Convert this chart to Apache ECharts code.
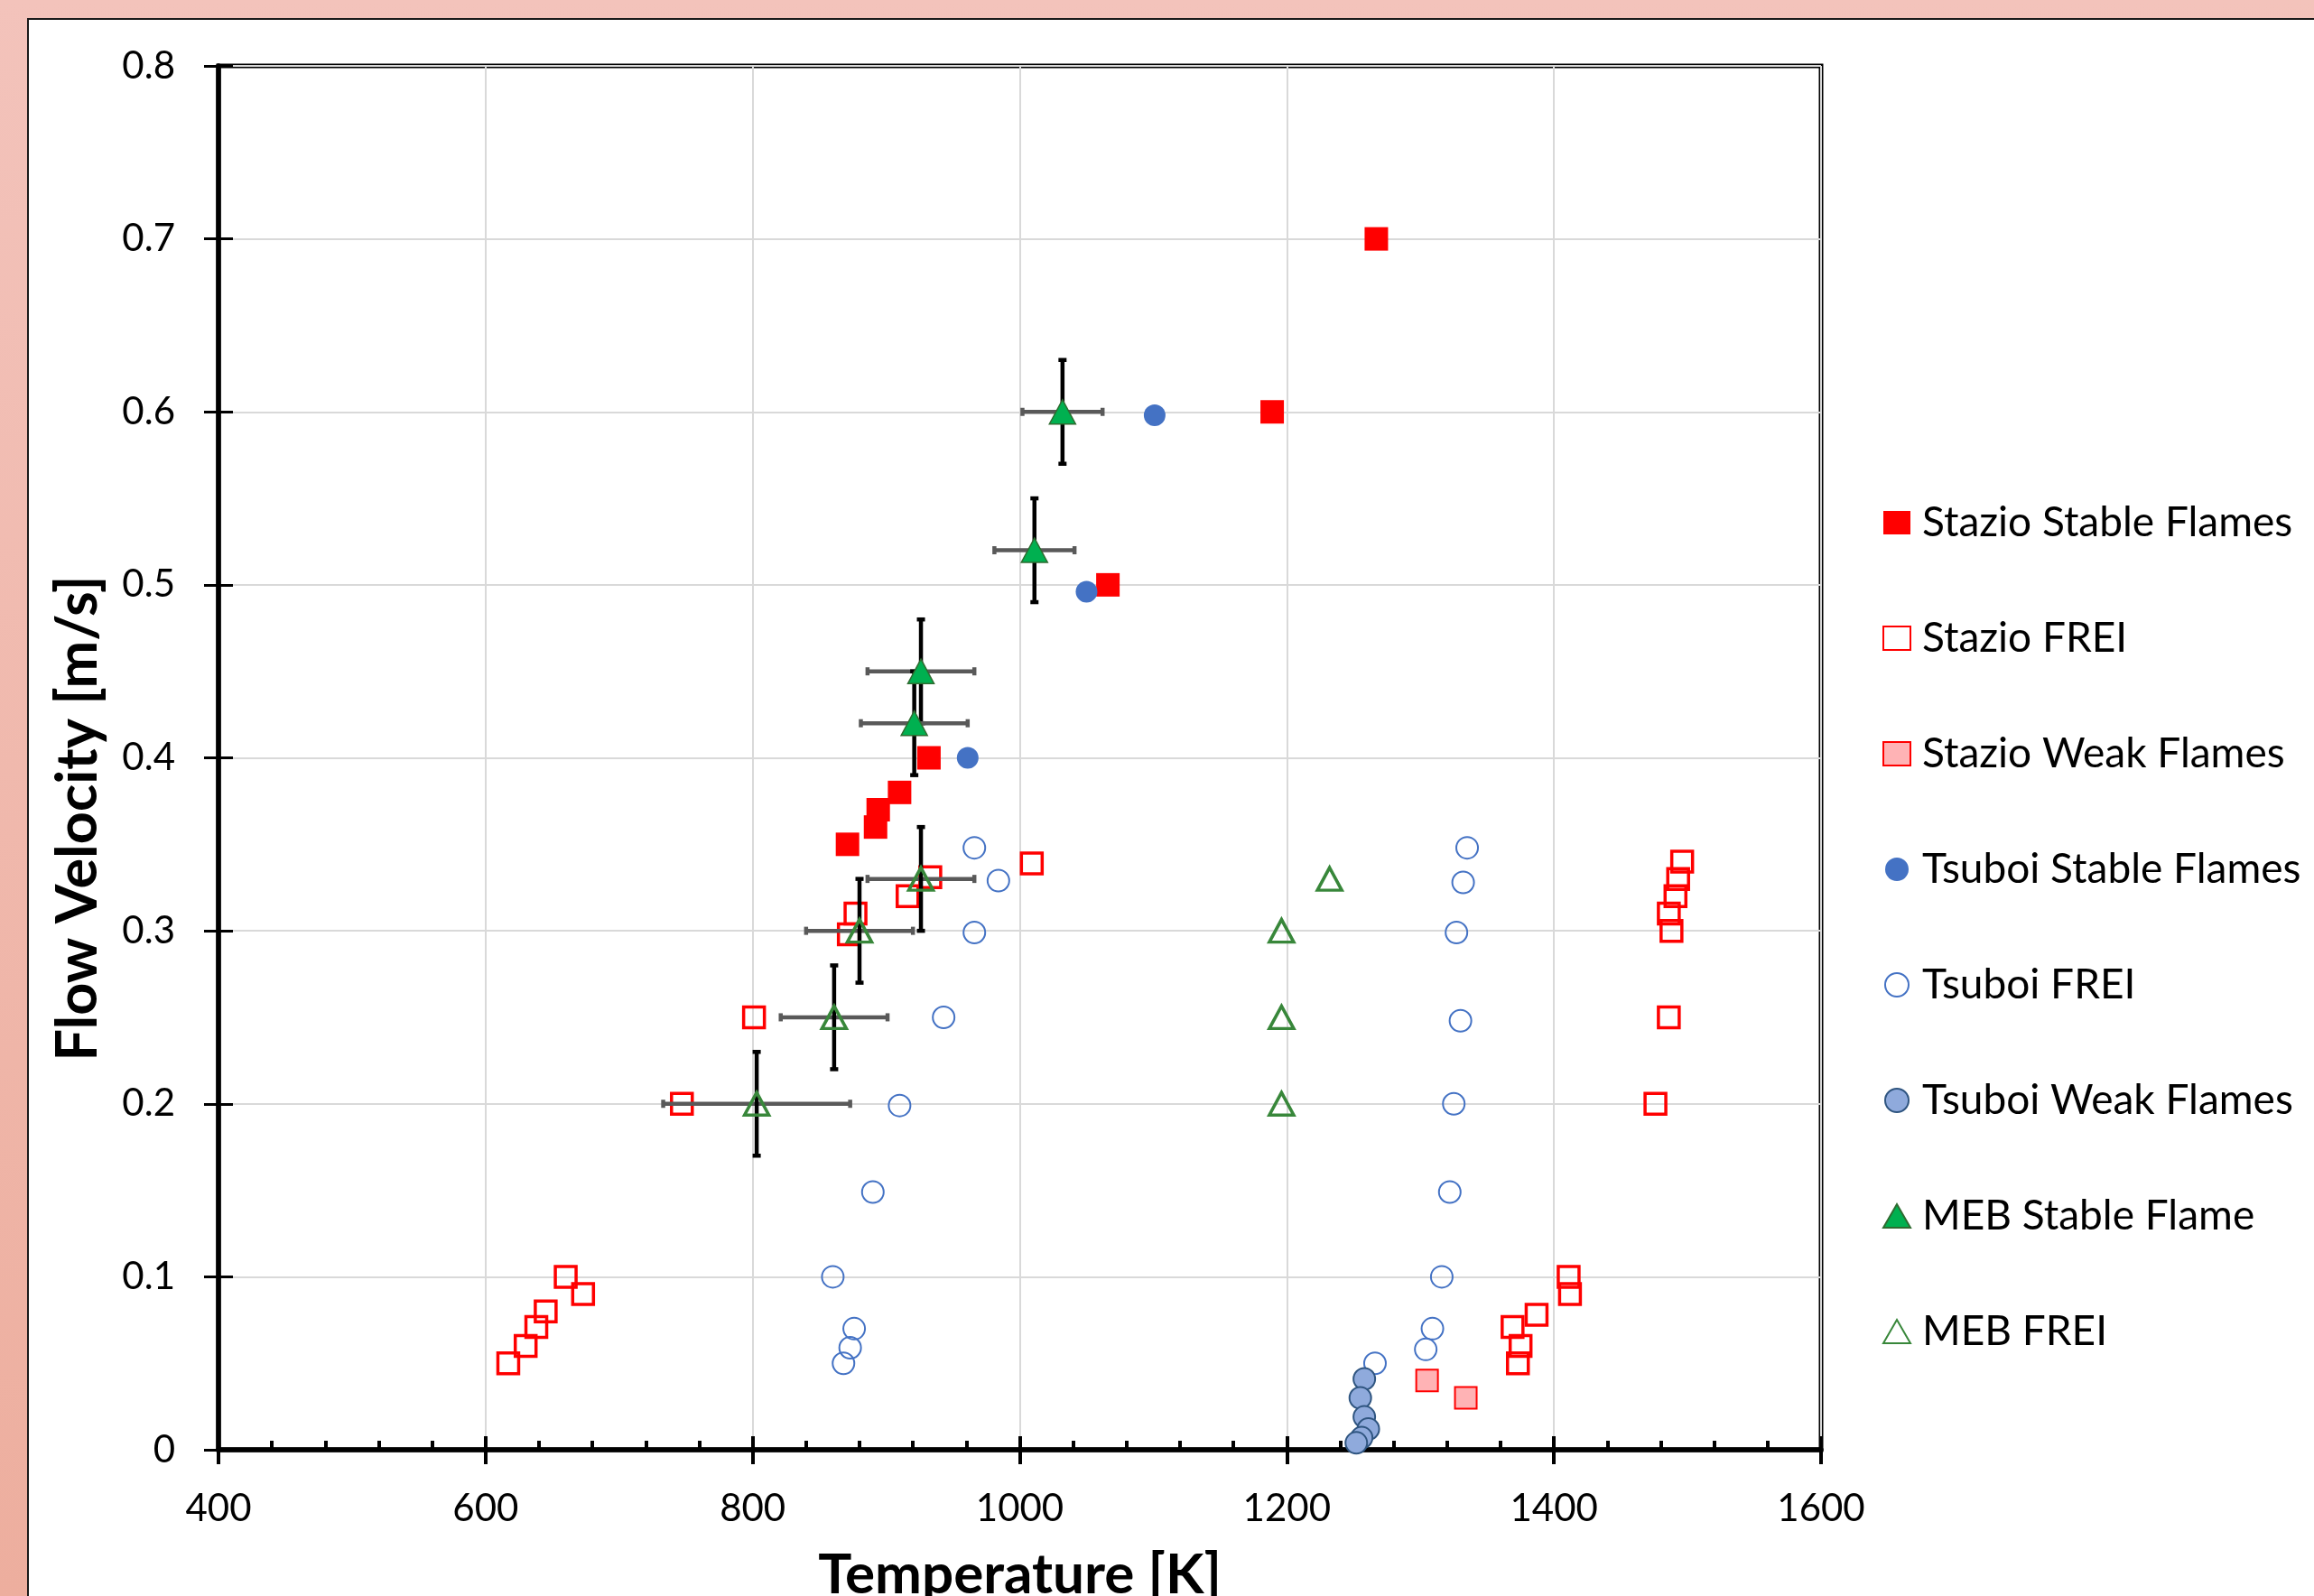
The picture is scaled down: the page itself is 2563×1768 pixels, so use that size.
<!DOCTYPE html>
<html>
<head>
<meta charset="utf-8">
<script src="https://cdn.jsdelivr.net/npm/echarts@6.0.0/dist/echarts.min.js"></script>
<style>
  html, body { margin: 0; padding: 0; }
  body {
    width: 2563px; height: 1768px; overflow: hidden; position: relative;
    background: linear-gradient(to bottom, #f3c3bb, #edae9e);
  }
  #paper {
    position: absolute; left: 30px; top: 20px; right: -10px; bottom: -10px;
    background: #fff; border-top: 2px solid #1a1a1a; border-left: 2px solid #1a1a1a;
  }
  #chart { position: absolute; left: 0; top: 0; width: 2563px; height: 1768px; }
</style>
</head>
<body>
<div id="paper"></div>
<div id="chart"></div>
<script>
// values: temperature [K] and flow velocity [m/s]
let stazioStableT = [1267, 1189, 1066, 932, 910, 894, 892, 871]
let stazioStableV = [0.70, 0.60, 0.50, 0.40, 0.38, 0.37, 0.36, 0.35]

let stazioFreiT = [617, 630, 638, 645, 660, 673, 747, 801, 872, 877, 916, 933, 1009,
  1496, 1493, 1491, 1486, 1488, 1486, 1476, 1411, 1412, 1387, 1369, 1375, 1373]
let stazioFreiV = [0.05, 0.06, 0.071, 0.08, 0.10, 0.09, 0.20, 0.25, 0.298, 0.31, 0.32, 0.331, 0.339,
  0.34, 0.33, 0.32, 0.31, 0.30, 0.25, 0.20, 0.10, 0.09, 0.078, 0.071, 0.06, 0.05]

let stazioWeakT = [1305, 1334]
let stazioWeakV = [0.04, 0.03]

let tsuboiStableT = [1101, 1050, 961]
let tsuboiStableV = [0.598, 0.496, 0.40]

let tsuboiFreiT = [966, 984, 966, 943, 910, 890, 860, 876, 873, 868,
  1335, 1332, 1327, 1330, 1325, 1322, 1316, 1309, 1304, 1266]
let tsuboiFreiV = [0.348, 0.329, 0.299, 0.25, 0.199, 0.149, 0.10, 0.07, 0.059, 0.05,
  0.348, 0.328, 0.299, 0.248, 0.20, 0.149, 0.10, 0.07, 0.058, 0.05]

let tsuboiWeakT = [1258, 1255, 1258, 1261, 1256, 1252]
let tsuboiWeakV = [0.041, 0.030, 0.019, 0.012, 0.007, 0.004]

let mebStableT = [1032, 1011, 926, 921]
let mebStableV = [0.60, 0.52, 0.45, 0.42]
let mebStableTErr = [30, 30, 40, 40]
let mebStableVErr = [0.03, 0.03, 0.03, 0.03]

let mebFreiT = [926, 880, 861, 803, 1232, 1196, 1196, 1196]
let mebFreiV = [0.33, 0.30, 0.25, 0.20, 0.33, 0.30, 0.25, 0.20]
let mebFreiTErr = [40, 40, 40, 70, 0, 0, 0, 0]
let mebFreiVErr = [0.03, 0.03, 0.03, 0.03, 0, 0, 0, 0]

let xTicks = [400, 600, 800, 1000, 1200, 1400, 1600]
let yTicks = [0, 0.1, 0.2, 0.3, 0.4, 0.5, 0.6, 0.7, 0.8]

function pairs(xs, ys) {
  return xs.map((x, i) => [x, ys[i]])
}

function errRows(xs, ys, dxs, dys) {
  let rows = []
  for (let i = 0; i < xs.length; i++) {
    if (dxs[i] || dys[i]) rows.push([xs[i], ys[i], dxs[i], dys[i]])
  }
  return rows
}

function renderErr(params, api) {
  let x = api.value(0), y = api.value(1), dx = api.value(2), dy = api.value(3)
  let l = api.coord([x - dx, y]), r = api.coord([x + dx, y])
  let t = api.coord([x, y + dy]), b = api.coord([x, y - dy])
  let gray = {stroke: '#595959', lineWidth: 4.5}
  let black = {stroke: '#000', lineWidth: 4.5}
  let c = 4.5
  return {
    type: 'group',
    children: [
      {type: 'line', shape: {x1: l[0], y1: l[1], x2: r[0], y2: r[1]}, style: gray},
      {type: 'line', shape: {x1: l[0], y1: l[1] - c, x2: l[0], y2: l[1] + c}, style: gray},
      {type: 'line', shape: {x1: r[0], y1: r[1] - c, x2: r[0], y2: r[1] + c}, style: gray},
      {type: 'line', shape: {x1: t[0], y1: t[1], x2: b[0], y2: b[1]}, style: black},
      {type: 'line', shape: {x1: t[0] - c, y1: t[1], x2: t[0] + c, y2: t[1]}, style: black},
      {type: 'line', shape: {x1: b[0] - c, y1: b[1], x2: b[0] + c, y2: b[1]}, style: black}
    ]
  }
}

let font = 'Lato'
let none = 'rgba(0,0,0,0)'

let option = {
  animation: false,
  textStyle: {fontFamily: font},
  grid: {
    left: 242, right: 546, top: 73, bottom: 162,
    outerBoundsMode: 'none',
    containLabel: false,
    show: true, borderColor: '#000', borderWidth: 5, backgroundColor: none
  },
  legend: {
    orient: 'vertical',
    left: 2080,
    top: 548,
    itemWidth: 30,
    itemHeight: 26,
    itemGap: 76,
    textStyle: {fontFamily: font, fontSize: 46, color: '#000', lineHeight: 52, padding: [0, 0, 0, 8]},
    data: ['Stazio Stable Flames', 'Stazio FREI', 'Stazio Weak Flames', 'Tsuboi Stable Flames',
      'Tsuboi FREI', 'Tsuboi Weak Flames', 'MEB Stable Flame', 'MEB FREI']
  },
  xAxis: [{
    type: 'value',
    position: 'bottom',
    min: 400, max: 1600, interval: 200,
    name: 'Temperature [K]',
    nameLocation: 'middle',
    nameGap: 108,
    nameTextStyle: {fontFamily: font, fontSize: 62, fontWeight: 'bold', color: '#000'},
    axisLine: {show: true, lineStyle: {color: '#000', width: 5.5}},
    axisTick: {show: true, inside: true, length: 15, lineStyle: {color: '#000', width: 4}},
    minorTick: {show: true, splitNumber: 5, length: 10, lineStyle: {color: '#000', width: 4}},
    axisLabel: {
      fontSize: 42, color: '#000', margin: 44,
      customValues: xTicks,
      formatter: v => String(v)
    },
    splitLine: {show: true, lineStyle: {color: '#d9d9d9', width: 2}}
  }, {
    type: 'value',
    position: 'bottom',
    min: 400, max: 1600, interval: 200,
    axisLine: {show: false},
    axisTick: {show: true, inside: false, length: 16, lineStyle: {color: '#000', width: 4}},
    axisLabel: {show: false},
    splitLine: {show: false}
  }],
  yAxis: [{
    type: 'value',
    position: 'left',
    min: 0, max: 0.8, interval: 0.1,
    name: 'Flow Velocity [m/s]',
    nameLocation: 'middle',
    nameRotate: 90,
    nameGap: 124,
    // the title sits a little below the middle of the axis
    nameTextStyle: {fontFamily: font, fontSize: 63, fontWeight: 'bold', color: '#000', padding: [0, 134, 0, 0]},
    axisLine: {show: true, lineStyle: {color: '#000', width: 5.5}},
    axisTick: {show: true, inside: false, length: 16, lineStyle: {color: '#000', width: 3}},
    axisLabel: {
      fontSize: 42, color: '#000', margin: 48,
      customValues: yTicks,
      formatter: v => (v === 0 ? '0' : v.toFixed(1))
    },
    splitLine: {show: true, lineStyle: {color: '#d9d9d9', width: 2}}
  }, {
    type: 'value',
    position: 'left',
    min: 0, max: 0.8, interval: 0.1,
    axisLine: {show: false},
    axisTick: {show: true, inside: true, length: 16, lineStyle: {color: '#000', width: 3}},
    axisLabel: {show: false},
    splitLine: {show: false}
  }],
  series: [{
    name: 'Stazio FREI',
    type: 'scatter',
    symbol: 'rect',
    symbolSize: 23,
    z: 2,
    itemStyle: {color: none, borderColor: '#ff0000', borderWidth: 3.5, opacity: 1},
    data: pairs(stazioFreiT, stazioFreiV)
  }, {
    name: 'Stazio Stable Flames',
    type: 'scatter',
    symbol: 'rect',
    symbolSize: 26,
    z: 2,
    itemStyle: {color: '#ff0000', opacity: 1},
    data: pairs(stazioStableT, stazioStableV)
  }, {
    name: 'Stazio Weak Flames',
    type: 'scatter',
    symbol: 'rect',
    symbolSize: 24,
    z: 2,
    itemStyle: {color: '#ffb3b5', borderColor: '#ff0000', borderWidth: 2, opacity: 1},
    data: pairs(stazioWeakT, stazioWeakV)
  }, {
    name: 'Tsuboi Stable Flames',
    type: 'scatter',
    symbol: 'circle',
    symbolSize: 24,
    z: 2,
    itemStyle: {color: '#4472c4', opacity: 1},
    data: pairs(tsuboiStableT, tsuboiStableV)
  }, {
    name: 'Tsuboi FREI',
    type: 'scatter',
    symbol: 'circle',
    symbolSize: 24,
    z: 2,
    itemStyle: {color: none, borderColor: '#4472c4', borderWidth: 2, opacity: 1},
    data: pairs(tsuboiFreiT, tsuboiFreiV)
  }, {
    name: 'Tsuboi Weak Flames',
    type: 'scatter',
    symbol: 'circle',
    symbolSize: 24,
    z: 2,
    itemStyle: {color: '#8faadc', borderColor: '#2f5580', borderWidth: 2, opacity: 1},
    data: pairs(tsuboiWeakT, tsuboiWeakV)
  }, {
    name: 'errors',
    type: 'custom',
    z: 3,
    renderItem: renderErr,
    encode: {x: 0, y: 1},
    data: errRows(mebStableT, mebStableV, mebStableTErr, mebStableVErr)
      .concat(errRows(mebFreiT, mebFreiV, mebFreiTErr, mebFreiVErr))
  }, {
    name: 'MEB Stable Flame',
    type: 'scatter',
    symbol: 'triangle',
    symbolSize: [29, 27],
    z: 4,
    itemStyle: {color: '#00b050', borderColor: '#2e6b30', borderWidth: 1.5, opacity: 1},
    data: pairs(mebStableT, mebStableV)
  }, {
    name: 'MEB FREI',
    type: 'scatter',
    symbol: 'triangle',
    symbolSize: [27, 25],
    z: 4,
    itemStyle: {color: none, borderColor: '#38873a', borderWidth: 3.5, opacity: 1},
    data: pairs(mebFreiT, mebFreiV)
  }]
}

let chart = echarts.init(document.getElementById('chart'))
chart.setOption(option)
</script>
</body>
</html>
